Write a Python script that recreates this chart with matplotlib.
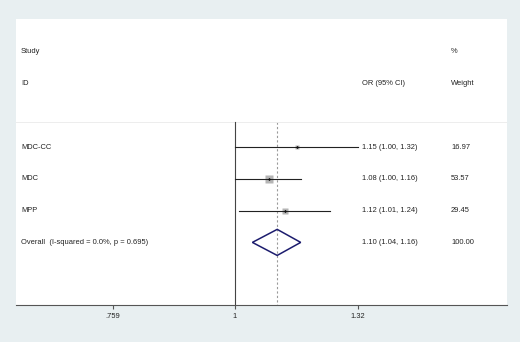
import matplotlib
matplotlib.use("Agg")
import matplotlib.pyplot as plt
from matplotlib.patches import Polygon
from matplotlib.ticker import FixedLocator, FixedFormatter, NullLocator

plt.rcParams["font.family"] = ["Liberation Sans", "DejaVu Sans"]

# Forest plot data
studies = ["MDC-CC", "MDC", "MPP"]
or_vals = [1.15, 1.08, 1.12]
ci_low = [1.00, 1.00, 1.01]
ci_high = [1.32, 1.16, 1.24]
weights = [16.97, 53.57, 29.45]

overall_label = "Overall  (I-squared = 0.0%, p = 0.695)"
overall_or = 1.10
overall_low = 1.04
overall_high = 1.16
overall_weight = 100.00

tick_vals = [0.759, 1.0, 1.32]
tick_labels = [".759", "1", "1.32"]

bg = "#e8eff1"
txt = "#222222"
fs = 5.45

W, H = 520, 342
fig = plt.figure(figsize=(W / 100, H / 100), dpi=100, facecolor=bg)
ax = fig.add_axes([16 / W, (H - 305) / H, (507 - 16) / W, (305 - 19) / H])
ax.set_facecolor("white")

ax.set_xscale("log")
ax.set_xlim(0.6096, 1.849)
ax.set_ylim(7.97, -1.03)

# row positions
row_study = [3, 4, 5]
row_overall = 6

# header text
tr = ax.get_yaxis_transform()
col_study = (21 - 16) / 491
col_or = (362 - 16) / 491
col_w = (451 - 16) / 491
ax.text(col_study, 0, "Study", transform=tr, fontsize=fs, color=txt, va="center")
ax.text(col_study, 1, "ID", transform=tr, fontsize=fs, color=txt, va="center")
ax.text(col_or, 1, "OR (95% CI)", transform=tr, fontsize=fs, color=txt, va="center")
ax.text(col_w, 0, "%", transform=tr, fontsize=fs, color=txt, va="center")
ax.text(col_w, 1, "Weight", transform=tr, fontsize=fs, color=txt, va="center")

# faint separator above the plot area
ax.axhline(2.2, color="#ededed", lw=0.7)

# null line and overall dashed line
ax.plot([1.0, 1.0], [2.2, 7.97], color="#444444", lw=0.8, zorder=2)
ax.plot([overall_or, overall_or], [2.2, 7.97], color="#9a9a9a", lw=0.8,
        ls=(0, (2, 2)), zorder=1)

max_w = max(weights)
for name, r, est, lo, hi, w in zip(studies, row_study, or_vals, ci_low, ci_high, weights):
    side = 5.8 * (w / max_w) ** 0.5
    ax.plot([est], [r], marker="s", ms=side, color="#b5b5b5", mec="none", zorder=3)
    ax.plot([lo, hi], [r, r], color="#222222", lw=0.8, zorder=4)
    ax.plot([est], [r], marker="D", ms=1.6, color="#111111", mec="none", zorder=5)
    ax.text(col_study, r, name, transform=tr, fontsize=fs, color=txt, va="center")
    ax.text(col_or, r, f"{est:.2f} ({lo:.2f}, {hi:.2f})", transform=tr,
            fontsize=fs, color=txt, va="center")
    ax.text(col_w, r, f"{w:.2f}", transform=tr, fontsize=fs, color=txt, va="center")

# overall diamond
dh = 0.41
diamond = Polygon([(overall_low, row_overall), (overall_or, row_overall - dh),
                   (overall_high, row_overall), (overall_or, row_overall + dh)],
                  closed=True, fill=False, edgecolor="#1c1c6e", lw=1.1, zorder=4)
ax.add_patch(diamond)
ax.text(col_study, row_overall, overall_label, transform=tr, fontsize=fs,
        color=txt, va="center")
ax.text(col_or, row_overall, f"{overall_or:.2f} ({overall_low:.2f}, {overall_high:.2f})",
        transform=tr, fontsize=fs, color=txt, va="center")
ax.text(col_w, row_overall, f"{overall_weight:.2f}", transform=tr, fontsize=fs,
        color=txt, va="center")

# axes styling
for s in ["top", "right", "left"]:
    ax.spines[s].set_visible(False)
ax.spines["bottom"].set_color("#555555")
ax.spines["bottom"].set_linewidth(0.8)
ax.xaxis.set_major_locator(FixedLocator(tick_vals))
ax.xaxis.set_major_formatter(FixedFormatter(tick_labels))
ax.xaxis.set_minor_locator(NullLocator())
ax.tick_params(axis="x", direction="out", length=3, width=0.8, color="#555555",
               labelsize=fs, labelcolor=txt, pad=3)
ax.set_yticks([])

fig.savefig("out.png", dpi=100, facecolor=bg)
